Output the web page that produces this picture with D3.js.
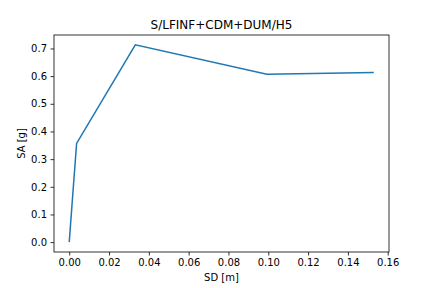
<!DOCTYPE html>
<html>
<head>
<meta charset="utf-8">
<script src="https://cdn.jsdelivr.net/npm/d3@7"></script>
<style>
  body { margin: 0; background: #fff; }
  text { font-family: "DejaVu Sans", sans-serif; fill: #000; }
</style>
</head>
<body>
<div id="chart"></div>
<script>
const sd = [0, 0.0037, 0.0332, 0.0993, 0.153];
const sa = [0, 0.357, 0.713, 0.607, 0.613];
const xTicks = [0, 0.02, 0.04, 0.06, 0.08, 0.10, 0.12, 0.14, 0.16];
const yTicks = [0, 0.1, 0.2, 0.3, 0.4, 0.5, 0.6, 0.7];

const W = 432, H = 288;
const margin = { top: 35, right: 43, bottom: 36, left: 54 };
const width = W - margin.left - margin.right;
const height = H - margin.top - margin.bottom;

const svg = d3.select('#chart').append('svg')
  .attr('width', W).attr('height', H);

const g = svg.append('g')
  .attr('transform', `translate(${margin.left},${margin.top})`);

// matplotlib style 5% padding
const xPad = (d3.max(sd) - d3.min(sd)) * 0.05;
const yPad = (d3.max(sa) - d3.min(sa)) * 0.05;
const x = d3.scaleLinear().domain([d3.min(sd) - xPad, d3.max(sd) + xPad]).range([0, width]);
const y = d3.scaleLinear().domain([d3.min(sa) - yPad, d3.max(sa) + yPad]).range([height, 0]);

const xAxis = g.append('g')
  .attr('transform', `translate(0,${height})`)
  .call(d3.axisBottom(x).tickValues(xTicks).tickFormat(d3.format('.2f')).tickSizeOuter(0).tickSize(3.5).tickPadding(3.5));

const yAxis = g.append('g')
  .call(d3.axisLeft(y).tickValues(yTicks).tickFormat(d3.format('.1f')).tickSizeOuter(0).tickSize(3.5).tickPadding(3.5));

[xAxis, yAxis].forEach(a => {
  a.select('.domain').remove();
  a.selectAll('line').attr('stroke', '#000').attr('stroke-width', 0.8);
  a.selectAll('text').style('font-size', '10px').style('font-family', '"DejaVu Sans", sans-serif');
});

// frame
g.append('rect')
  .attr('width', width).attr('height', height)
  .attr('fill', 'none').attr('stroke', '#000').attr('stroke-width', 0.8);

const line = d3.line()
  .x((d, i) => x(sd[i]))
  .y(d => y(d));

g.append('path')
  .datum(sa)
  .attr('fill', 'none')
  .attr('stroke', '#1f77b4')
  .attr('stroke-width', 1.5)
  .attr('d', line);

svg.append('text')
  .attr('x', margin.left + width / 2).attr('y', margin.top - 6)
  .attr('text-anchor', 'middle').style('font-size', '12px')
  .text('S/LFINF+CDM+DUM/H5');

svg.append('text')
  .attr('x', margin.left + width / 2).attr('y', H - 7)
  .attr('text-anchor', 'middle').style('font-size', '10px')
  .text('SD [m]');

svg.append('text')
  .attr('transform', `translate(25,${margin.top + height / 2}) rotate(-90)`)
  .attr('text-anchor', 'middle').style('font-size', '10px')
  .text('SA [g]');
</script>
</body>
</html>
